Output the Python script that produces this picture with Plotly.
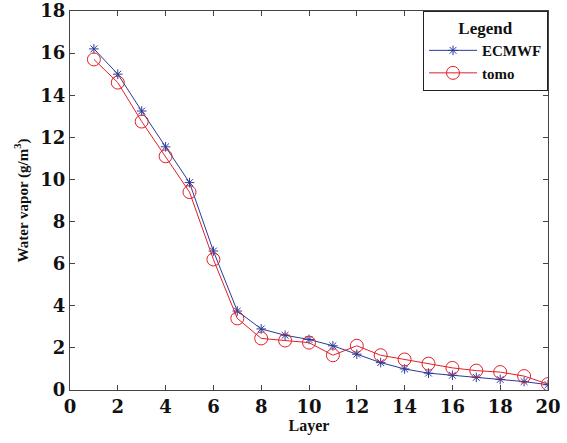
import plotly.graph_objects as go

layers = list(range(1, 21))
ecmwf = [16.2, 15.0, 13.25, 11.55, 9.85, 6.6, 3.75, 2.9, 2.6, 2.4, 2.1, 1.7, 1.3, 1.0, 0.8, 0.7, 0.6, 0.5, 0.4, 0.25]
tomo = [15.7, 14.6, 12.75, 11.1, 9.4, 6.2, 3.4, 2.45, 2.35, 2.25, 1.65, 2.1, 1.65, 1.45, 1.25, 1.05, 0.92, 0.85, 0.66, 0.28]
x_ticks = list(range(0, 21, 2))
y_ticks = list(range(0, 19, 2))

font_fam = "Liberation Serif"
tick_fam = "DejaVu Serif"

fig = go.Figure()
fig.add_trace(go.Scatter(
    x=layers, y=ecmwf, name="ECMWF", mode="lines+markers",
    line=dict(color="#2a3a9a", width=1),
    marker=dict(symbol="asterisk-open", size=8, color="#2a3a9a", line=dict(color="#2a3a9a", width=1)),
))
fig.add_trace(go.Scatter(
    x=layers, y=tomo, name="tomo", mode="lines+markers",
    line=dict(color="#e0202a", width=1),
    marker=dict(symbol="circle-open", size=13, color="#e0202a", line=dict(color="#e0202a", width=1)),
))

axis_common = dict(
    showgrid=False, zeroline=False, showline=True, linecolor="#444", linewidth=1,
    mirror="ticks", ticks="inside", ticklen=5, tickcolor="#444", automargin=False,
    tickfont=dict(family=tick_fam, size=18, color="#111", weight="bold"),
)

fig.update_layout(
    width=567, height=443,
    margin=dict(l=70, r=19, t=11, b=53),
    font=dict(family=font_fam, color="#111"),
    plot_bgcolor="white", paper_bgcolor="white",
    showlegend=True,
    legend=dict(
        x=1, y=1.0, xanchor="right", yanchor="top",
        bordercolor="#222", borderwidth=1, bgcolor="white",
        font=dict(family=font_fam, size=15, color="#111", weight="bold"),
        title=dict(text="Legend", side="top center", font=dict(family=font_fam, size=17, color="#111", weight="bold")),
        itemwidth=48, tracegroupgap=0,
    ),
    xaxis=dict(range=[0, 20], tickvals=x_ticks, ticktext=[str(v) for v in x_ticks],
               title=dict(text="Layer", font=dict(family=font_fam, size=16, color="#111", weight="bold"), standoff=4),
               **axis_common),
    yaxis=dict(range=[0, 18], tickvals=y_ticks, ticktext=[str(v) for v in y_ticks],
               title=dict(text="Water vapor (g/m<sup>3</sup>)", font=dict(family=font_fam, size=15, color="#111", weight="bold"), standoff=8),
               **axis_common),
)

fig.write_html("out.html")
